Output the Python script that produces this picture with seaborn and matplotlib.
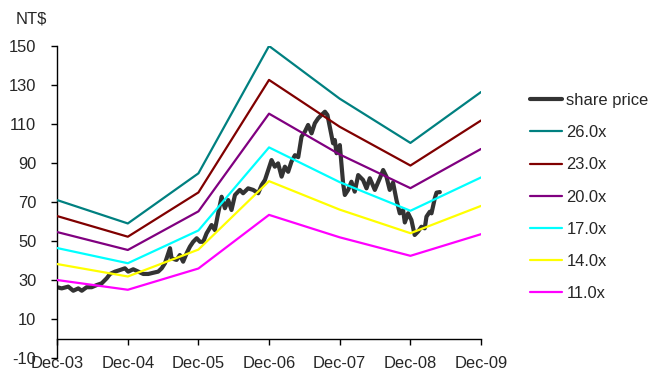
import matplotlib
matplotlib.use("Agg")
import matplotlib.pyplot as plt
import pandas as pd
import seaborn as sns

# ---------------- data ----------------
band_dates = ["2003-12-31", "2004-12-31", "2005-12-31", "2006-12-31",
              "2007-12-31", "2008-12-31", "2009-12-31"]
band_26x = [71.0, 59.0, 84.7, 150.0, 123.0, 100.3, 126.4]
band_23x = [62.8, 52.2, 74.9, 132.6, 108.6, 88.7, 111.8]
band_20x = [54.6, 45.4, 65.2, 115.3, 94.4, 77.1, 97.2]
band_17x = [46.4, 38.6, 55.4, 98.0, 80.2, 65.5, 82.6]
band_14x = [38.2, 31.8, 45.6, 80.7, 66.1, 54.0, 68.0]
band_11x = [30.0, 25.0, 35.9, 63.4, 51.9, 42.4, 53.5]

band_labels = ["26.0x", "23.0x", "20.0x", "17.0x", "14.0x", "11.0x"]
band_colors = ["#008080", "#800000", "#800080", "#00FFFF", "#FFFF00", "#FF00FF"]

price_dates = [
    "2003-12-31", "2004-01-24", "2004-02-27", "2004-03-24", "2004-04-19", "2004-05-07",
    "2004-06-01", "2004-06-27", "2004-07-23", "2004-08-18", "2004-09-13", "2004-09-30",
    "2004-10-26", "2004-11-20", "2004-12-16", "2005-01-02", "2005-01-28", "2005-02-23",
    "2005-03-21", "2005-04-16", "2005-05-11", "2005-06-06", "2005-06-24", "2005-07-11",
    "2005-08-06", "2005-08-14", "2005-09-09", "2005-09-26", "2005-10-13", "2005-10-31",
    "2005-11-17", "2005-12-04", "2005-12-22", "2006-01-08", "2006-01-25", "2006-02-11",
    "2006-03-09", "2006-03-26", "2006-04-12", "2006-04-30", "2006-05-17", "2006-06-03",
    "2006-06-20", "2006-07-08", "2006-08-02", "2006-08-19", "2006-09-14", "2006-10-10",
    "2006-11-05", "2006-11-23", "2006-12-10", "2007-01-13", "2007-01-30", "2007-02-16",
    "2007-03-06", "2007-03-23", "2007-04-09", "2007-04-26", "2007-05-14", "2007-05-31",
    "2007-06-17", "2007-07-04", "2007-07-21", "2007-08-08", "2007-08-25", "2007-09-11",
    "2007-09-28", "2007-10-16", "2007-10-29", "2007-11-10", "2007-11-27", "2007-12-06",
    "2007-12-15", "2008-01-01", "2008-01-18", "2008-01-27", "2008-02-13", "2008-03-01",
    "2008-03-18", "2008-04-05", "2008-04-30", "2008-05-18", "2008-06-04", "2008-06-30",
    "2008-07-26", "2008-08-12", "2008-08-29", "2008-09-15", "2008-10-02", "2008-10-20",
    "2008-11-06", "2008-11-23", "2008-12-02", "2008-12-19", "2009-01-05", "2009-01-22",
    "2009-02-08", "2009-02-26", "2009-03-15", "2009-03-24", "2009-04-10", "2009-04-19",
    "2009-05-06", "2009-05-15", "2009-06-01",
]
price_values = [
    26.3, 25.7, 26.6, 24.5, 25.7, 24.5,
    26.3, 26.3, 27.4, 28.3, 30.9, 33.1,
    34.3, 35.1, 36.0, 34.3, 35.5, 34.3,
    33.1, 33.1, 33.7, 34.3, 36.0, 38.6,
    46.3, 41.1, 40.3, 42.8, 39.4, 43.7,
    47.1, 49.6, 51.4, 49.6, 49.6, 53.9,
    58.2, 55.6, 64.2, 72.7, 66.8, 71.0,
    65.9, 73.6, 76.2, 74.5, 77.0, 76.2,
    74.5, 78.7, 81.3, 91.5, 88.1, 89.8,
    83.0, 88.1, 85.5, 90.7, 94.0, 93.0,
    103.5, 106.0, 109.5, 105.2, 110.4, 112.9,
    114.6, 116.3, 114.6, 108.6, 100.1, 101.8,
    95.0, 99.2, 79.6, 73.6, 76.2, 80.4,
    75.3, 83.8, 81.3, 77.0, 82.2, 76.2,
    82.2, 86.4, 83.0, 76.2, 80.0, 71.0,
    64.2, 65.9, 59.5, 64.2, 60.8, 53.1,
    54.8, 57.3, 56.5, 62.5, 65.0, 64.2,
    71.9, 74.8, 75.1,
]

tick_labels = ["Dec-03", "Dec-04", "Dec-05", "Dec-06", "Dec-07", "Dec-08", "Dec-09"]
y_ticks = [-10, 10, 30, 50, 70, 90, 110, 130, 150]

# ---------------- style ----------------
sns.set_theme(style="white")
plt.rcParams["font.family"] = ["Liberation Sans", "DejaVu Sans"]
plt.rcParams["axes.unicode_minus"] = False
FS = 11.9

fig = plt.figure(figsize=(6.51, 3.70), dpi=100)
ax = fig.add_axes([0.0876, 0.0324, 0.6513, 0.8433])

bdates = pd.to_datetime(band_dates)
pdates = pd.to_datetime(price_dates)

price_df = pd.DataFrame({"date": pdates, "price": price_values})
sns.lineplot(data=price_df, x="date", y="price", ax=ax, color="#333333",
             lw=3.0, label="share price", zorder=2)

band_series = [band_26x, band_23x, band_20x, band_17x, band_14x, band_11x]
for vals, lab, col in zip(band_series, band_labels, band_colors):
    df = pd.DataFrame({"date": bdates, "v": vals})
    sns.lineplot(data=df, x="date", y="v", ax=ax, color=col, lw=1.6,
                 label=lab, zorder=3)

ax.set_xlim(bdates[0], bdates[-1])
ax.set_ylim(-10, 150)
ax.set_xticks(bdates)
ax.set_xticklabels(tick_labels)
ax.set_yticks(y_ticks)
ax.set_xlabel("")
ax.set_ylabel("")

for s in ["top", "right"]:
    ax.spines[s].set_visible(False)
ax.spines["bottom"].set_position(("data", 0))
for s in ["left", "bottom"]:
    ax.spines[s].set_color("black")
    ax.spines[s].set_linewidth(1.0)

ax.tick_params(axis="x", direction="out", length=4, width=1, color="black",
               pad=8.6, labelsize=FS, bottom=True)
ax.tick_params(axis="y", direction="out", length=4, width=1, color="black",
               pad=11, labelsize=FS, left=True)

fig.text(16 / 651, 1 - 19 / 370, "NT$", fontsize=FS, va="center", ha="left")

handles, labels = ax.get_legend_handles_labels()
leg = ax.legend(handles, labels, loc="upper left",
                bbox_to_anchor=(530 / 651, 1 - 93 / 370),
                bbox_transform=fig.transFigure, frameon=False, fontsize=FS,
                handlelength=1.95, handletextpad=0.25, labelspacing=1.04,
                borderpad=0, borderaxespad=0)

fig.savefig("out.png", dpi=100)
